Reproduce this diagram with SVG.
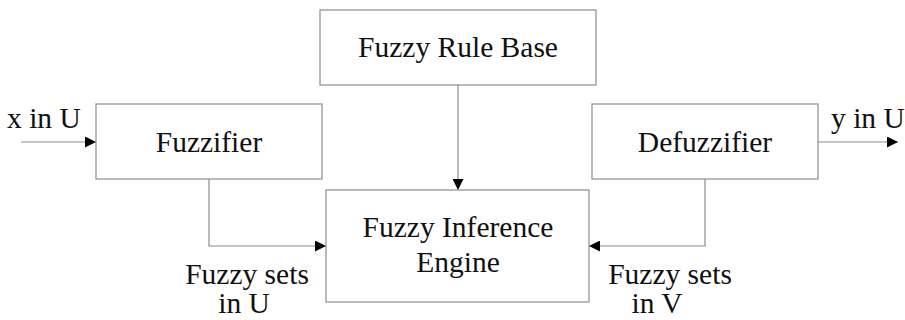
<svg xmlns="http://www.w3.org/2000/svg" width="905" height="320" viewBox="0 0 905 320">
<defs>
<style>
.box{fill:#fff;stroke:#8c8c8c;stroke-width:1.2}
.ln{fill:none;stroke:#8c8c8c;stroke-width:1.2}
text{font-family:"Liberation Serif","Times New Roman",serif;font-size:29.5px;fill:#111}
.c{text-anchor:middle}
</style>
<marker id="ah" viewBox="0 0 10 10" refX="10" refY="5" markerUnits="userSpaceOnUse" markerWidth="11" markerHeight="11" orient="auto">
<path d="M0,0 L10,5 L0,10 Z" fill="#000"/>
</marker>
</defs>
<rect width="905" height="320" fill="#fff"/>
<g id="connectors">
<line class="ln" x1="21" y1="142" x2="96" y2="142" marker-end="url(#ah)"/>
<line class="ln" x1="818" y1="142" x2="898" y2="142" marker-end="url(#ah)"/>
<line class="ln" x1="458" y1="85" x2="458" y2="190" marker-end="url(#ah)"/>
<polyline class="ln" points="209,179 209,246 326,246" marker-end="url(#ah)"/>
<polyline class="ln" points="705,179 705,246 589,246" marker-end="url(#ah)"/>
</g>
<g id="rulebase">
<rect class="box" x="320" y="10" width="276" height="75"/>
<text class="c" x="458" y="57">Fuzzy Rule Base</text>
</g>
<g id="fuzzifier">
<rect class="box" x="96" y="104" width="226" height="75"/>
<text class="c" x="209" y="152">Fuzzifier</text>
</g>
<g id="defuzzifier">
<rect class="box" x="592" y="104" width="226" height="75"/>
<text class="c" x="705" y="152">Defuzzifier</text>
</g>
<g id="inference">
<rect class="box" x="326" y="190" width="263" height="112"/>
<text class="c" x="458" y="237">Fuzzy Inference</text>
<text class="c" x="458" y="272">Engine</text>
</g>
<g id="labels">
<text x="7" y="128">x in U</text>
<text x="831" y="128">y in U</text>
<text class="c" x="247" y="284">Fuzzy sets</text>
<text class="c" x="244" y="313">in U</text>
<text class="c" x="670" y="284">Fuzzy sets</text>
<text class="c" x="657" y="313">in V</text>
</g>
</svg>
